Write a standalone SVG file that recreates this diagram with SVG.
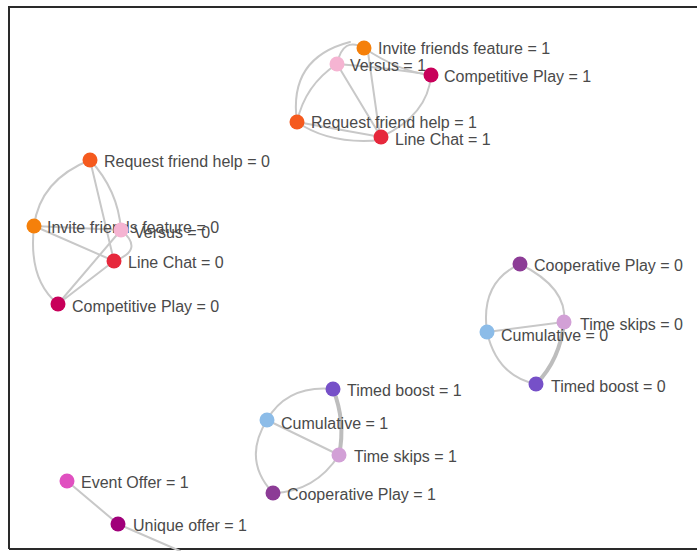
<svg xmlns="http://www.w3.org/2000/svg" width="697" height="551" viewBox="0 0 697 551">
<style>
.e{fill:none;stroke:#c8c8c8;stroke-width:2;stroke-linecap:round}
.t{stroke:#bdbdbd;stroke-width:4}
text{font-family:"Liberation Sans",Arial,sans-serif;font-size:16px;fill:#4a4a4a}
</style>
<rect width="697" height="551" fill="#fff"/>
<path d="M9,549 V7 H697 M9,549 H697" fill="none" stroke="#2a2a2a" stroke-width="2"/>
<g id="connectors">
<!-- top cluster -->
<path class="e" d="M337,64 Q343,36 364,48"/>
<path class="e" d="M337,64 Q390,68 431,75"/>
<path class="e" d="M364,48 Q400,72 431,75"/>
<path class="e" d="M297,122 Q305,85 337,64"/>
<path class="e" d="M297,122 Q288,58 350,42"/>
<path class="e" d="M337,64 L381,137"/>
<path class="e" d="M368,52 L380,137"/>
<path class="e" d="M431,75 Q428,115 381,137"/>
<path class="e" d="M297,122 L381,137"/>
<path class="e" d="M297,122 Q330,145 381,140"/>
<!-- left cluster -->
<path class="e" d="M90,160 Q40,180 34,226"/>
<path class="e" d="M90,160 L114,261"/>
<path class="e" d="M90,160 Q118,190 121,230"/>
<path class="e" d="M34,226 L121,230"/>
<path class="e" d="M34,226 L114,261"/>
<path class="e" d="M34,226 Q28,280 58,304"/>
<path class="e" d="M58,304 L121,230"/>
<path class="e" d="M58,304 L114,261"/>
<path class="e" d="M121,230 Q145,250 114,261"/>
<!-- right cluster -->
<path class="e" d="M520,264 Q480,282 487,332"/>
<path class="e" d="M520,264 Q568,288 564,322"/>
<path class="e" d="M487,332 L564,322"/>
<path class="e" d="M487,332 Q497,376 536,384"/>
<path class="e t" d="M564,322 Q560,360 536,384"/>
<!-- bottom cluster -->
<path class="e" d="M267,420 Q287,385 333,389"/>
<path class="e" d="M267,420 L339,455"/>
<path class="e t" d="M333,389 Q346,422 339,455"/>
<path class="e" d="M267,420 Q242,460 273,493"/>
<path class="e" d="M339,455 Q315,492 273,493"/>
<!-- offers -->
<path class="e" d="M67,481 L118,524"/>
<path class="e" d="M118,524 L180,551"/>
</g>
<g id="n-invite1"><circle cx="364" cy="48" r="7.5" fill="#f5800a"/><text x="378" y="54">Invite friends feature = 1</text></g>
<g id="n-versus1"><circle cx="337" cy="64" r="7.5" fill="#f5b4d2"/><text x="350" y="71">Versus = 1</text></g>
<g id="n-comp1"><circle cx="431" cy="75" r="7.5" fill="#c8005a"/><text x="444" y="82">Competitive Play = 1</text></g>
<g id="n-request1"><circle cx="297" cy="122" r="7.5" fill="#f55a1e"/><text x="311" y="128">Request friend help = 1</text></g>
<g id="n-linechat1"><circle cx="381" cy="137" r="7.5" fill="#e6283c"/><text x="395" y="145">Line Chat = 1</text></g>
<g id="n-request0"><circle cx="90" cy="160" r="7.5" fill="#f55a1e"/><text x="104" y="167">Request friend help = 0</text></g>
<g id="n-invite0"><circle cx="34" cy="226" r="7.5" fill="#f5800a"/><text x="47" y="233">Invite friends feature = 0</text></g>
<g id="n-versus0"><circle cx="121" cy="230" r="7.5" fill="#f5b4d2"/><text x="134" y="238">Versus = 0</text></g>
<g id="n-linechat0"><circle cx="114" cy="261" r="7.5" fill="#e6283c"/><text x="128" y="268">Line Chat = 0</text></g>
<g id="n-comp0"><circle cx="58" cy="304" r="7.5" fill="#c8005a"/><text x="72" y="312">Competitive Play = 0</text></g>
<g id="n-coop0"><circle cx="520" cy="264" r="7.5" fill="#8c3c96"/><text x="534" y="271">Cooperative Play = 0</text></g>
<g id="n-timeskips0"><circle cx="564" cy="322" r="7.5" fill="#d2a0d6"/><text x="580" y="330">Time skips = 0</text></g>
<g id="n-cumulative0"><circle cx="487" cy="332" r="7.5" fill="#8cbce8"/><text x="501" y="341">Cumulative = 0</text></g>
<g id="n-timed0"><circle cx="536" cy="384" r="7.5" fill="#7650c8"/><text x="551" y="392">Timed boost = 0</text></g>
<g id="n-timed1"><circle cx="333" cy="389" r="7.5" fill="#7650c8"/><text x="347" y="396">Timed boost = 1</text></g>
<g id="n-cumulative1"><circle cx="267" cy="420" r="7.5" fill="#8cbce8"/><text x="281" y="429">Cumulative = 1</text></g>
<g id="n-timeskips1"><circle cx="339" cy="455" r="7.5" fill="#d2a0d6"/><text x="354" y="462">Time skips = 1</text></g>
<g id="n-coop1"><circle cx="273" cy="493" r="7.5" fill="#8c3c96"/><text x="287" y="500">Cooperative Play = 1</text></g>
<g id="n-event1"><circle cx="67" cy="481" r="7.5" fill="#e050c0"/><text x="81" y="488">Event Offer = 1</text></g>
<g id="n-unique1"><circle cx="118" cy="524" r="7.5" fill="#a0007a"/><text x="133" y="531">Unique offer = 1</text></g>
</svg>
